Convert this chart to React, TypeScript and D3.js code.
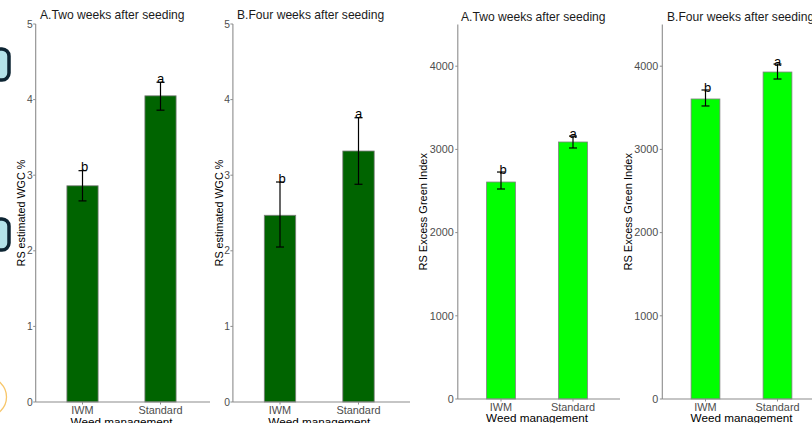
import React from "react";
import * as d3 from "d3";

// treatments
const categories = ["IWM", "Standard"];

// RS estimated weed ground cover (%)
const wgcTwoMean = [2.86, 4.05];
const wgcTwoLow = [2.66, 3.86];
const wgcTwoHigh = [3.06, 4.23];
const wgcTwoLetters = ["b", "a"];

const wgcFourMean = [2.47, 3.32];
const wgcFourLow = [2.05, 2.88];
const wgcFourHigh = [2.91, 3.76];
const wgcFourLetters = ["b", "a"];

// RS excess green index
const exgTwoMean = [2608, 3089];
const exgTwoLow = [2524, 3017];
const exgTwoHigh = [2728, 3160];
const exgTwoLetters = ["b", "a"];

const exgFourMean = [3606, 3930];
const exgFourLow = [3522, 3846];
const exgFourHigh = [3714, 4026];
const exgFourLetters = ["b", "a"];

const wgcTicks = [0, 1, 2, 3, 4, 5];
const exgTicks = [0, 1000, 2000, 3000, 4000];

const font = "'Liberation Sans', Arial, Helvetica, sans-serif";

function Panel(props) {
  var {
    title, yLabel, mean, low, high, letters, ticks, yMax, fill,
    xRange, yRange, axisEnd, yLabelX, titleX, titleY, xTickY, xTitleY, letterDy, tickSize, tickPad
  } = props;

  var x = d3.scalePoint().domain(categories).range(xRange).padding(0.6);
  var y = d3.scaleLinear().domain([0, yMax]).range(yRange);
  var barW = x.step() * 0.4;
  var axisX = xRange[0];
  var y0 = y(0);

  return (
    <g>
      <text x={titleX} y={titleY} fontSize={12.1} fill="#1a1a1a" fontFamily={font}>
        {title}
      </text>

      {/* bars */}
      {categories.map((c, i) => (
        <rect
          key={"b" + c}
          x={x(c) - barW / 2}
          y={y(mean[i])}
          width={barW}
          height={y0 - y(mean[i])}
          fill={fill}
          stroke="#7f7f7f"
          strokeWidth={0.8}
        />
      ))}

      {/* error bars */}
      {categories.map((c, i) => (
        <g key={"e" + c} stroke="#000" strokeWidth={1.2}>
          <line x1={x(c)} x2={x(c)} y1={y(high[i])} y2={y(low[i])} />
          <line x1={x(c) - 4} x2={x(c) + 4} y1={y(high[i])} y2={y(high[i])} />
          <line x1={x(c) - 4} x2={x(c) + 4} y1={y(low[i])} y2={y(low[i])} />
        </g>
      ))}

      {categories.map((c, i) => (
        <text
          key={"l" + c}
          x={x(c) + (letters[i] == "b" ? 2 : 0)}
          y={y(high[i]) + letterDy}
          textAnchor="middle"
          fontSize={13}
          fill="#000"
          fontFamily={font}
        >
          {letters[i]}
        </text>
      ))}

      {/* axes */}
      <line x1={axisX} x2={axisX} y1={yRange[1]} y2={y0} stroke="#8c8c8c" strokeWidth={1.1} />
      <line x1={axisX} x2={axisEnd} y1={y0} y2={y0} stroke="#8c8c8c" strokeWidth={1.1} />

      {ticks.map(t => (
        <g key={"t" + t}>
          <line x1={axisX - 2.5} x2={axisX} y1={y(t)} y2={y(t)} stroke="#8c8c8c" />
          <text
            x={axisX - tickPad}
            y={y(t)}
            dy="0.35em"
            textAnchor="end"
            fontSize={tickSize}
            fill="#4d4d4d"
            fontFamily={font}
          >
            {t}
          </text>
        </g>
      ))}

      {categories.map(c => (
        <g key={"x" + c}>
          <line x1={x(c)} x2={x(c)} y1={y0} y2={y0 + 2.5} stroke="#8c8c8c" />
          <text x={x(c)} y={xTickY} textAnchor="middle" fontSize={10.9} fill="#4d4d4d" fontFamily={font}>
            {c}
          </text>
        </g>
      ))}

      <text
        x={(xRange[0] + xRange[1]) / 2}
        y={xTitleY}
        textAnchor="middle"
        fontSize={11.7}
        fill="#000"
        fontFamily={font}
      >
        Weed management
      </text>

      <text
        transform={`translate(${yLabelX},${(yRange[0] + yRange[1]) / 2}) rotate(-90)`}
        textAnchor="middle"
        fontSize={props.yLabelSize}
        fill="#000"
        fontFamily={font}
      >
        {yLabel}
      </text>
    </g>
  );
}

export default function App() {
  return (
    <svg
      width={812}
      height={423}
      style={{ position: "absolute", left: 0, top: 0, background: "#fff" }}
    >
      <rect width={812} height={423} fill="#fff" />

      <Panel
        title="A.Two weeks after seeding"
        yLabel="RS estimated WGC %"
        mean={wgcTwoMean}
        low={wgcTwoLow}
        high={wgcTwoHigh}
        letters={wgcTwoLetters}
        ticks={wgcTicks}
        yMax={5}
        fill="#006400"
        xRange={[35.7, 207.3]}
        yRange={[402, 24]}
        axisEnd={210}
        yLabelX={25}
        titleX={40}
        titleY={18.5}
        xTickY={414}
        xTitleY={426}
        letterDy={0.5}
        tickSize={10.3}
        tickPad={3}
        yLabelSize={10.8}
      />
      <Panel
        title="B.Four weeks after seeding"
        yLabel="RS estimated WGC %"
        mean={wgcFourMean}
        low={wgcFourLow}
        high={wgcFourHigh}
        letters={wgcFourLetters}
        ticks={wgcTicks}
        yMax={5}
        fill="#006400"
        xRange={[232.9, 405.6]}
        yRange={[402, 24]}
        axisEnd={410}
        yLabelX={223}
        titleX={237}
        titleY={18.5}
        xTickY={414}
        xTitleY={426}
        letterDy={0.5}
        tickSize={10.3}
        tickPad={3}
        yLabelSize={10.8}
      />
      <Panel
        title="A.Two weeks after seeding"
        yLabel="RS Excess Green Index"
        mean={exgTwoMean}
        low={exgTwoLow}
        high={exgTwoHigh}
        letters={exgTwoLetters}
        ticks={exgTicks}
        yMax={4500}
        fill="#00ff00"
        xRange={[457.8, 616.2]}
        yRange={[399, 24.6]}
        axisEnd={620}
        yLabelX={427}
        titleX={461}
        titleY={20.5}
        xTickY={411}
        xTitleY={422}
        letterDy={2}
        tickSize={10.8}
        tickPad={4}
        yLabelSize={11}
      />
      <Panel
        title="B.Four weeks after seeding"
        yLabel="RS Excess Green Index"
        mean={exgFourMean}
        low={exgFourLow}
        high={exgFourHigh}
        letters={exgFourLetters}
        ticks={exgTicks}
        yMax={4500}
        fill="#00ff00"
        xRange={[662.3, 820.7]}
        yRange={[399, 24.6]}
        axisEnd={830}
        yLabelX={632}
        titleX={667}
        titleY={20.5}
        xTickY={411}
        xTitleY={422}
        letterDy={2}
        tickSize={10.8}
        tickPad={4}
        yLabelSize={11}
      />

      {/* screen overlay bits along the left edge */}
      <rect x={-20} y={49} width={29} height={31} rx={7} fill="#b3e3ea" stroke="#0d2533" strokeWidth={3.5} />
      <rect x={-20} y={219} width={29} height={31} rx={7} fill="#b3e3ea" stroke="#0d2533" strokeWidth={3.5} />
      <circle cx={-13} cy={397} r={19.5} fill="none" stroke="#f7c66a" strokeWidth={1.3} />
    </svg>
  );
}
